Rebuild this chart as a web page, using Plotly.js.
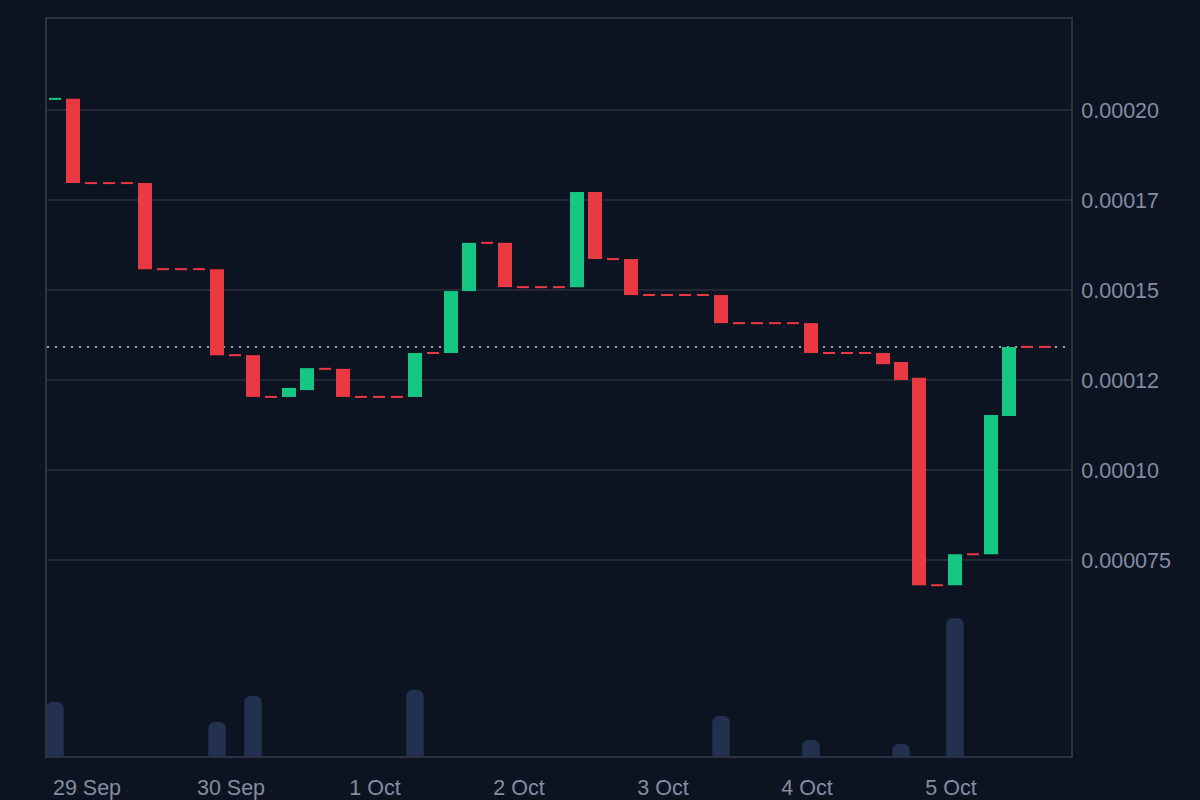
<!DOCTYPE html>
<html>
<head>
<meta charset="utf-8">
<script src="https://cdn.plot.ly/plotly-3.0.1.min.js"></script>
<style>
  html, body { margin: 0; padding: 0; background: #0d1421; }
  #chart { width: 1200px; height: 800px; }
</style>
</head>
<body>
<div id="chart"></div>
<script>
// ---- Data (3-hour candles) ----
const times = [
  '2025-09-28 18:40', '2025-09-28 21:40',
  '2025-09-29 00:40', '2025-09-29 03:40', '2025-09-29 06:40', '2025-09-29 09:40',
  '2025-09-29 12:40', '2025-09-29 15:40', '2025-09-29 18:40', '2025-09-29 21:40',
  '2025-09-30 00:40', '2025-09-30 03:40', '2025-09-30 06:40', '2025-09-30 09:40',
  '2025-09-30 12:40', '2025-09-30 15:40', '2025-09-30 18:40', '2025-09-30 21:40',
  '2025-10-01 00:40', '2025-10-01 03:40', '2025-10-01 06:40', '2025-10-01 09:40',
  '2025-10-01 12:40', '2025-10-01 15:40', '2025-10-01 18:40', '2025-10-01 21:40',
  '2025-10-02 00:40', '2025-10-02 03:40', '2025-10-02 06:40', '2025-10-02 09:40',
  '2025-10-02 12:40', '2025-10-02 15:40', '2025-10-02 18:40', '2025-10-02 21:40',
  '2025-10-03 00:40', '2025-10-03 03:40', '2025-10-03 06:40', '2025-10-03 09:40',
  '2025-10-03 12:40', '2025-10-03 15:40', '2025-10-03 18:40', '2025-10-03 21:40',
  '2025-10-04 00:40', '2025-10-04 03:40', '2025-10-04 06:40', '2025-10-04 09:40',
  '2025-10-04 12:40', '2025-10-04 15:40', '2025-10-04 18:40', '2025-10-04 21:40',
  '2025-10-05 00:40', '2025-10-05 03:40', '2025-10-05 06:40', '2025-10-05 09:40',
  '2025-10-05 12:40', '2025-10-05 15:40'
];

const opens = [
  0.0002031, 0.0002031, 0.0001797, 0.0001797, 0.0001797, 0.0001797, 0.0001558, 0.0001558,
  0.0001558, 0.0001558, 0.0001319, 0.0001319, 0.0001203, 0.0001203, 0.0001222, 0.0001281,
  0.0001281, 0.0001203, 0.0001203, 0.0001203, 0.0001203, 0.0001325, 0.0001325, 0.0001497,
  0.0001631, 0.0001631, 0.0001508, 0.0001508, 0.0001508, 0.0001508, 0.0001772, 0.0001586,
  0.0001586, 0.0001486, 0.0001486, 0.0001486, 0.0001486, 0.0001486, 0.0001408, 0.0001408,
  0.0001408, 0.0001408, 0.0001408, 0.0001325, 0.0001325, 0.0001325, 0.0001325, 0.0001300,
  0.0001256, 0.0000680, 0.0000680, 0.0000766, 0.0000766, 0.0001150, 0.0001342, 0.0001342
];

const closes = [
  0.0002031, 0.0001797, 0.0001797, 0.0001797, 0.0001797, 0.0001558, 0.0001558, 0.0001558,
  0.0001558, 0.0001319, 0.0001319, 0.0001203, 0.0001203, 0.0001228, 0.0001283, 0.0001281,
  0.0001203, 0.0001203, 0.0001203, 0.0001203, 0.0001325, 0.0001325, 0.0001497, 0.0001631,
  0.0001631, 0.0001508, 0.0001508, 0.0001508, 0.0001508, 0.0001772, 0.0001586, 0.0001586,
  0.0001486, 0.0001486, 0.0001486, 0.0001486, 0.0001486, 0.0001408, 0.0001408, 0.0001408,
  0.0001408, 0.0001408, 0.0001325, 0.0001325, 0.0001325, 0.0001325, 0.0001294, 0.0001250,
  0.0000680, 0.0000680, 0.0000766, 0.0000766, 0.0001153, 0.0001342, 0.0001342, 0.0001342
];

const volumes = [
  366, 0, 0, 0, 0, 0, 0, 0, 0, 230, 0, 407, 0, 0, 0, 0,
  0, 0, 0, 0, 447, 0, 0, 0, 0, 0, 0, 0, 0, 0, 0, 0,
  0, 0, 0, 0, 0, 271, 0, 0, 0, 0, 108, 0, 0, 0, 0, 81,
  0, 0, 935, 0, 0, 0, 0, 0
];

const yTickVals = [0.000075, 0.0001, 0.000125, 0.00015, 0.000175, 0.0002];
const yTickText = ['0.000075', '0.00010', '0.00012', '0.00015', '0.00017', '0.00020'];

// ---- Styling ----
const UP = '#16c784';
const DOWN = '#ea3943';
const BG = '#0d1421';
const GRID = '#232836';
const FRAME = '#2d3242';
const TEXT = '#858ca2';
const FONT = '"Liberation Sans", Arial, sans-serif';

// Bodies (non-flat candles)
const bx = [], bBase = [], bLen = [], bCol = [];
// Flat candles (open == close)
const fx = [], fy = [], fCol = [];
for (let i = 0; i < times.length; i++) {
  const o = opens[i], c = closes[i];
  if (o === c) {
    fx.push(times[i]); fy.push(c);
    fCol.push(i === 0 ? UP : DOWN);
  } else {
    bx.push(times[i]);
    bBase.push(Math.min(o, c));
    bLen.push(Math.abs(c - o));
    bCol.push(c > o ? UP : DOWN);
  }
}

const HOUR = 3600 * 1000;

const traces = [
  {
    type: 'bar', x: times, y: volumes, yaxis: 'y2',
    width: 2.9 * HOUR,
    marker: { color: '#243050', cornerradius: 6, line: { width: 0 } },
    hoverinfo: 'skip', showlegend: false
  },
  {
    type: 'bar', x: bx, y: bLen, base: bBase,
    width: 2.333 * HOUR,
    marker: { color: bCol, line: { width: 0 } },
    showlegend: false
  },
  {
    type: 'scatter', mode: 'markers', x: fx, y: fy,
    marker: { symbol: 'line-ew', size: 8.6, color: fCol, line: { color: fCol, width: 2 } },
    showlegend: false
  }
];

const layout = {
  width: 1200, height: 800,
  paper_bgcolor: BG, plot_bgcolor: BG,
  margin: { l: 47, r: 129, t: 19, b: 44 },
  barmode: 'overlay',
  showlegend: false,
  font: { family: FONT, size: 21.5, color: TEXT },
  xaxis: {
    type: 'date',
    range: ['2025-09-28 17:20', '2025-10-05 20:00'],
    dtick: 86400000,
    tick0: '2025-09-29',
    tickformat: '%-d %b',
    showgrid: false,
    zeroline: false,
    showline: true, linecolor: FRAME, linewidth: 2, mirror: true,
    ticks: 'outside', ticklen: 11, tickcolor: 'rgba(0,0,0,0)',
    tickfont: { family: FONT, size: 21.5, color: TEXT }
  },
  yaxis: {
    side: 'right',
    range: [0.00002056, 0.00022528],
    tickmode: 'array', tickvals: yTickVals, ticktext: yTickText,
    showgrid: true, gridcolor: GRID, gridwidth: 2,
    zeroline: false,
    showline: true, linecolor: FRAME, linewidth: 2, mirror: true,
    ticks: 'outside', ticklen: 4, tickcolor: 'rgba(0,0,0,0)',
    tickfont: { family: FONT, size: 21.5, color: TEXT }
  },
  yaxis2: {
    overlaying: 'y', side: 'left',
    range: [0, 5000],
    showgrid: false, zeroline: false, showticklabels: false, showline: false
  },
  shapes: [
    {
      type: 'line', xref: 'paper', x0: 0, x1: 1,
      yref: 'y', y0: closes[closes.length - 1], y1: closes[closes.length - 1],
      line: { color: '#9ca3af', width: 2, dash: '2px,6px' },
      layer: 'between'
    }
  ]
};

Plotly.newPlot('chart', traces, layout, { displayModeBar: false, staticPlot: true });
</script>
</body>
</html>
